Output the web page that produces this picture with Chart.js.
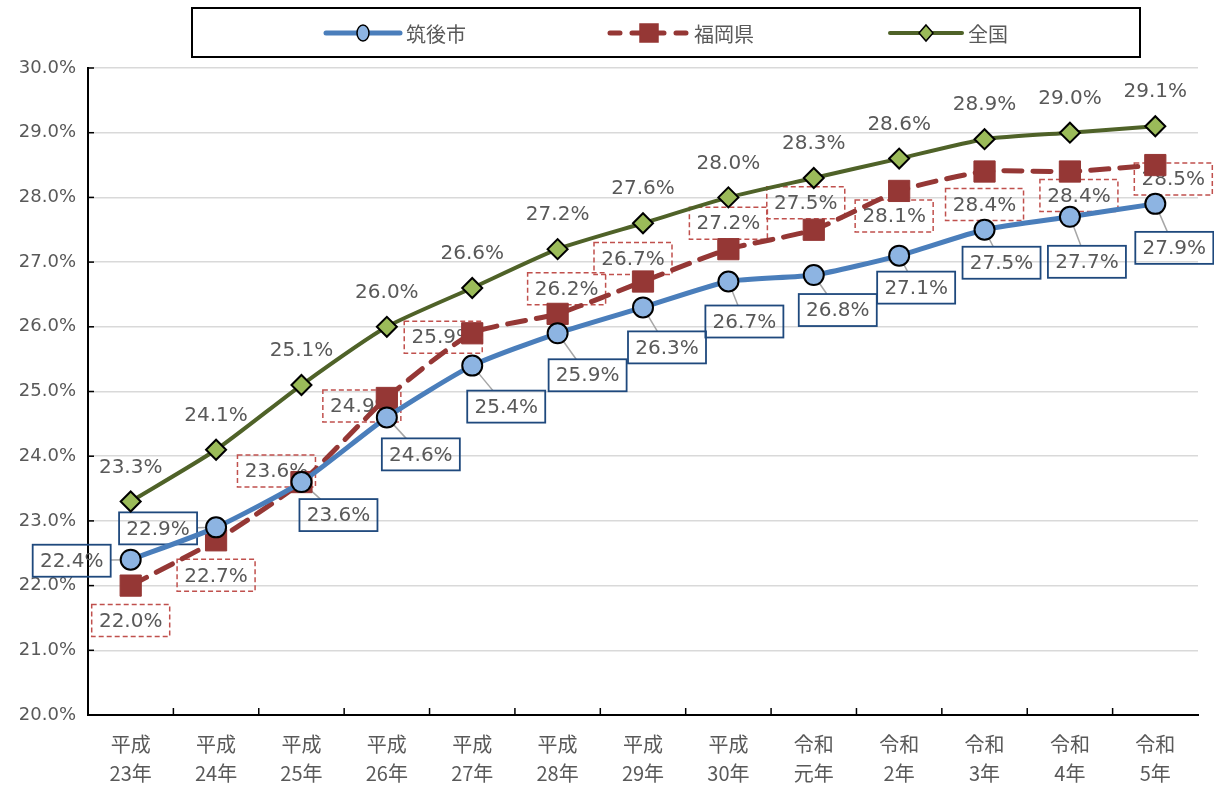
<!DOCTYPE html>
<html>
<head>
<meta charset="utf-8">
<script src="https://cdn.jsdelivr.net/npm/chart.js@4/dist/chart.umd.min.js"></script>
<style>
  html, body { margin: 0; padding: 0; background: #fff; }
  canvas { display: block; }
</style>
</head>
<body>
<canvas id="chart" width="1214" height="789"></canvas>
<script>
const categories = [
  ['平成', '23年'], ['平成', '24年'], ['平成', '25年'], ['平成', '26年'],
  ['平成', '27年'], ['平成', '28年'], ['平成', '29年'], ['平成', '30年'],
  ['令和', '元年'], ['令和', '2年'], ['令和', '3年'], ['令和', '4年'], ['令和', '5年']
];
const chikugo = [22.4, 22.9, 23.6, 24.6, 25.4, 25.9, 26.3, 26.7, 26.8, 27.1, 27.5, 27.7, 27.9];
const fukuoka = [22.0, 22.7, 23.6, 24.9, 25.9, 26.2, 26.7, 27.2, 27.5, 28.1, 28.4, 28.4, 28.5];
const zenkoku = [23.3, 24.1, 25.1, 26.0, 26.6, 27.2, 27.6, 28.0, 28.3, 28.6, 28.9, 29.0, 29.1];
const seriesNames = ['筑後市', '福岡県', '全国'];
const yMin = 20, yMax = 30, yStep = 1;

const FONT = '"Noto Sans CJK JP", "Noto Sans", sans-serif';
const NUMFONT = '"DejaVu Sans", "Noto Sans CJK JP", sans-serif';
const TEXT = '#595959';

// where each data label sits, relative to its point (px)
const chikugoOff = [[-59, 1], [-58, 1], [37, 33], [34, 37], [34, 41], [30, 42], [24, 40],
  [16, 40], [24, 35], [17, 32], [17, 33], [17, 45], [19, 44]];
const fukuokaOff = [[0, 35], [0, 35], [-25, -11], [-25, 8], [-29, 4], [9, -25], [-10, -23],
  [0, -26], [-8, -27], [-5, 25], [0, 33], [9, 24], [18, 14]];
const zenkokuOff = zenkoku.map(() => [0, -35]);

const styles = [
  { line: '#4a7ebb', fill: '#8db4e2', edge: '#000', pt: 'circle', r: 10, w: 5, dash: [] },
  { line: '#953735', fill: '#953735', edge: '#953735', pt: 'rect', r: 15, w: 5, dash: [18, 11] },
  { line: '#4f6228', fill: '#9bbb59', edge: '#000', pt: 'rectRot', r: 10, w: 4, dash: [] }
];

function boxEdge(px, py, bx, by, hw, hh) {
  // point where the segment from (px,py) to box centre crosses the box edge
  const dx = px - bx, dy = py - by;
  const t = Math.min(hw / Math.abs(dx || 1e-6), hh / Math.abs(dy || 1e-6));
  return [bx + dx * t, by + dy * t];
}

const labelPlugin = {
  id: 'labels',
  beforeDatasetsDraw(chart) {
    const ctx = chart.ctx;
    const offs = [chikugoOff, fukuokaOff, zenkokuOff];
    ctx.save();
    ctx.font = '20px ' + NUMFONT;
    ctx.textAlign = 'center';
    ctx.textBaseline = 'middle';
    chart.data.datasets.forEach((ds, i) => {
      const meta = chart.getDatasetMeta(i);
      meta.data.forEach((el, j) => {
        const txt = ds.data[j].toFixed(1) + '%';
        const cx = el.x + offs[i][j][0], cy = el.y + offs[i][j][1];
        const hw = 39, hh = 16;
        if (i === 0) {
          const inside = Math.abs(el.x - cx) < hw && Math.abs(el.y - cy) < hh;
          if (!inside) {
            const [ex, ey] = boxEdge(el.x, el.y, cx, cy, hw, hh);
            ctx.strokeStyle = '#a6a6a6';
            ctx.lineWidth = 1.5;
            ctx.setLineDash([]);
            ctx.beginPath(); ctx.moveTo(el.x, el.y); ctx.lineTo(ex, ey); ctx.stroke();
          }
          ctx.strokeStyle = '#1f497d';
          ctx.lineWidth = 1.8;
          ctx.strokeRect(cx - hw, cy - hh, hw * 2, hh * 2);
        } else if (i === 1) {
          ctx.strokeStyle = '#c0504d';
          ctx.lineWidth = 1.5;
          ctx.setLineDash([5, 3]);
          ctx.strokeRect(cx - hw, cy - hh, hw * 2, hh * 2);
          ctx.setLineDash([]);
        }
        ctx.fillStyle = TEXT;
        ctx.fillText(txt, cx, cy + 1);
      });
    });
    ctx.restore();
  }
};

const framePlugin = {
  id: 'frame',
  afterDraw(chart) {
    const ctx = chart.ctx;
    const a = chart.chartArea;
    const y = chart.scales.y;
    ctx.save();
    // inner tick marks
    ctx.strokeStyle = '#000';
    ctx.lineWidth = 1.5;
    for (let v = yMin; v <= yMax; v += yStep) {
      const py = y.getPixelForValue(v);
      ctx.beginPath(); ctx.moveTo(a.left, py); ctx.lineTo(a.left + 6, py); ctx.stroke();
    }
    const step = (a.right - a.left) / categories.length;
    for (let k = 1; k < categories.length; k++) {
      const px = a.left + step * k;
      ctx.beginPath(); ctx.moveTo(px, a.bottom); ctx.lineTo(px, a.bottom - 7); ctx.stroke();
    }
    // legend
    ctx.lineWidth = 2;
    ctx.strokeRect(192, 8, 948, 49);
    const ly = 33;
    const items = [[326, 400], [610, 688], [890, 962]];
    ctx.font = '20px ' + FONT;
    ctx.textBaseline = 'middle';
    ctx.textAlign = 'left';
    items.forEach(([x0, x1], i) => {
      const s = styles[i];
      ctx.strokeStyle = s.line;
      ctx.lineWidth = s.w;
      ctx.lineCap = 'round';
      ctx.setLineDash(i === 1 ? [10, 12] : []);
      ctx.beginPath(); ctx.moveTo(x0, ly); ctx.lineTo(x1, ly); ctx.stroke();
      ctx.setLineDash([]);
      const mx = (x0 + x1) / 2;
      ctx.fillStyle = s.fill;
      ctx.strokeStyle = s.edge;
      ctx.lineWidth = 1.5;
      ctx.beginPath();
      if (i === 0) ctx.ellipse(mx, ly, 6, 8, 0, 0, Math.PI * 2);
      else if (i === 1) ctx.rect(mx - 9, ly - 9, 18, 18);
      else { ctx.moveTo(mx, ly - 8); ctx.lineTo(mx + 7, ly); ctx.lineTo(mx, ly + 8); ctx.lineTo(mx - 7, ly); ctx.closePath(); }
      ctx.fill(); ctx.stroke();
      ctx.fillStyle = TEXT;
      ctx.fillText(seriesNames[i], x1 + 6, ly + 1);
    });
    ctx.restore();
  }
};

function makeSet(name, data, s) {
  return {
    label: name,
    data: data,
    borderColor: s.line,
    borderWidth: s.w,
    borderDash: s.dash,
    borderCapStyle: 'round',
    backgroundColor: s.fill,
    pointStyle: s.pt,
    pointRadius: s.r,
    pointBackgroundColor: s.fill,
    pointBorderColor: s.edge,
    pointBorderWidth: s.pt === 'rect' ? 1 : 2,
    tension: 0.2,
    fill: false
  };
}

new Chart(document.getElementById('chart'), {
  type: 'line',
  data: {
    labels: categories,
    datasets: [
      makeSet(seriesNames[0], chikugo, styles[0]),
      makeSet(seriesNames[1], fukuoka, styles[1]),
      makeSet(seriesNames[2], zenkoku, styles[2])
    ]
  },
  options: {
    responsive: false,
    animation: false,
    layout: { padding: { top: 68, right: 16, left: 0, bottom: 0 } },
    plugins: { legend: { display: false }, tooltip: { enabled: false } },
    scales: {
      x: {
        offset: true,
        grid: { display: false, drawTicks: false },
        border: { color: '#000', width: 2 },
        ticks: { color: TEXT, font: { family: FONT, size: 20, lineHeight: 1.45 }, padding: 15, maxRotation: 0 },
        afterFit(scale) { scale.height = 74; }
      },
      y: {
        min: yMin,
        max: yMax,
        grid: { color: '#d9d9d9', lineWidth: 1.5, drawTicks: false },
        border: { color: '#000', width: 2 },
        ticks: {
          stepSize: yStep,
          color: TEXT,
          padding: 12,
          font: { family: NUMFONT, size: 18 },
          callback: v => v.toFixed(1) + '%'
        },
        afterFit(scale) { scale.width = 88; }
      }
    }
  },
  plugins: [labelPlugin, framePlugin]
});
</script>
</body>
</html>
